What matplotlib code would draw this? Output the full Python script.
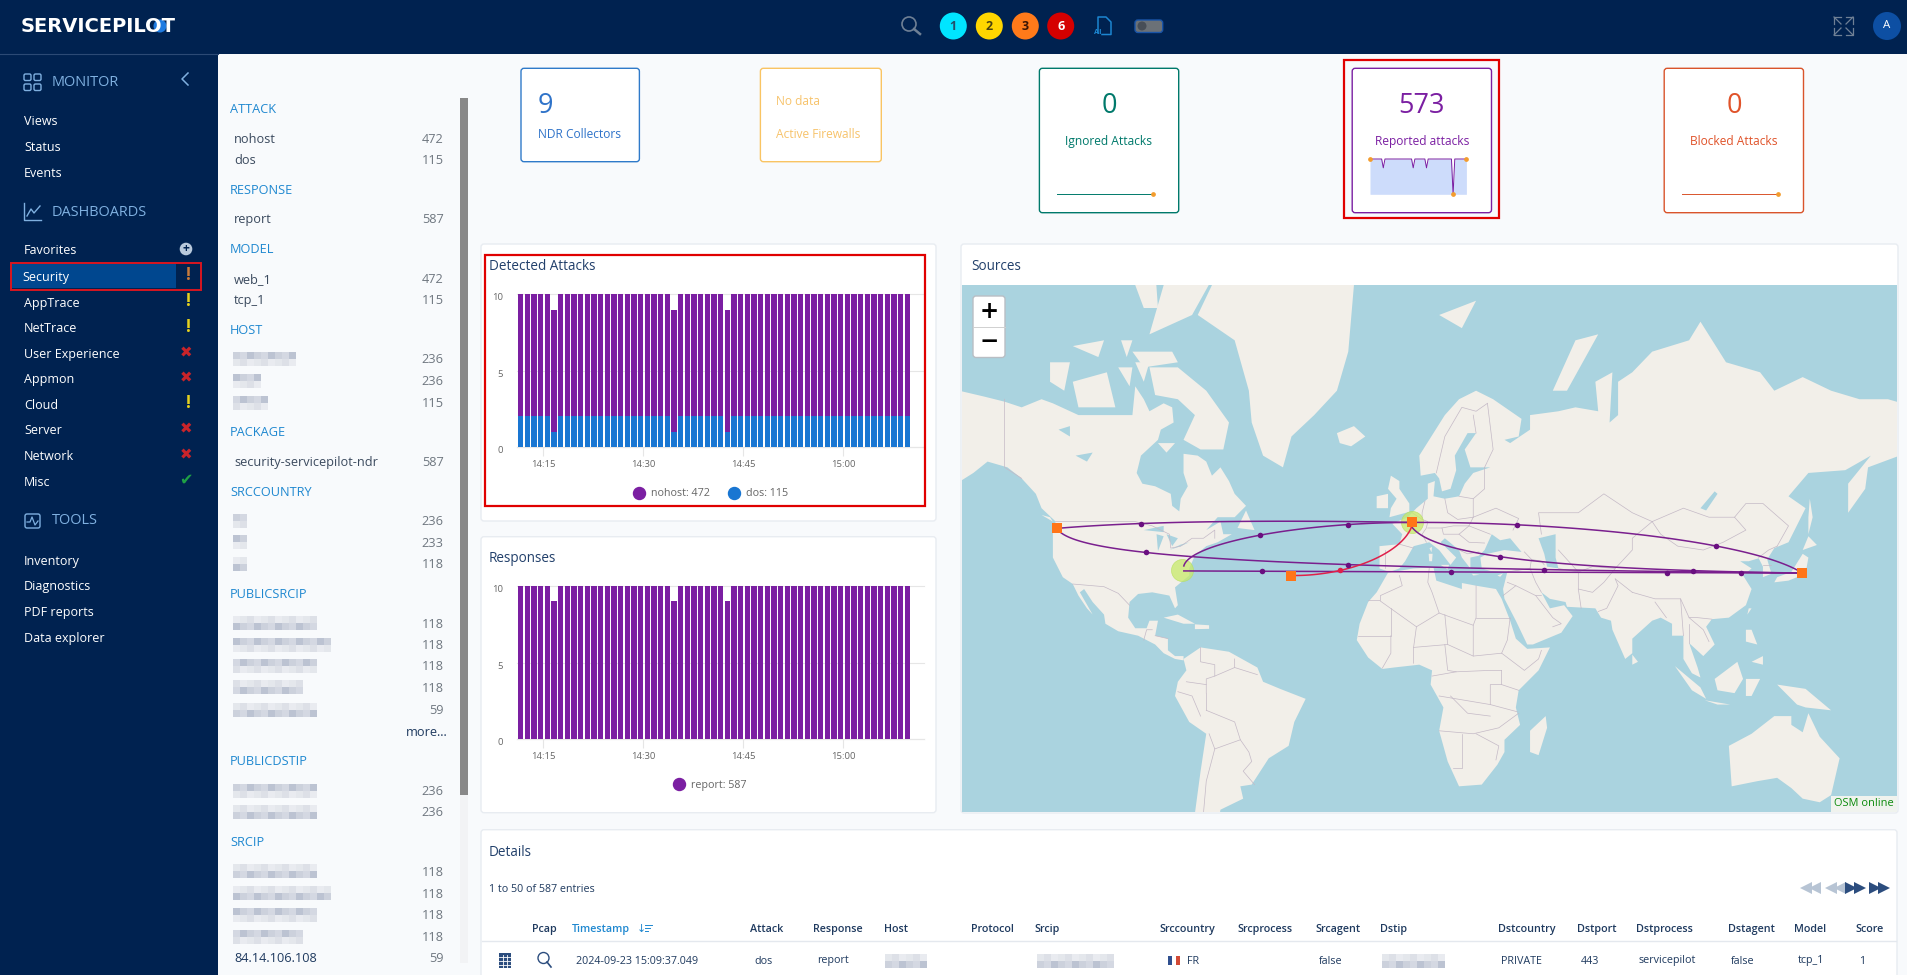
# -*- coding: utf-8 -*-

import matplotlib
matplotlib.use('Agg')
import matplotlib.pyplot as plt
import numpy as np
from matplotlib.lines import Line2D
from matplotlib.patches import Circle, FancyBboxPatch, Rectangle
from matplotlib.transforms import ScaledTranslation

W, H = 1908, 975
FONT = 'Open Sans'
plt.rcParams['font.family'] = [FONT, 'DejaVu Sans']

PURPLE = '#7b1fa2'
BLUE = '#1976d2'
NAVY = '#002250'
PAGE = '#f8fafc'
LINK = '#1f88d0'
DARK = '#1f3a5f'
GREY = '#6f7780'
RED = '#e00000'

# --- chart data -------------------------------------------------------------
bar_minutes = [11.6, 12.6, 13.6, 14.6, 15.6, 16.6, 17.6, 18.6, 19.6, 20.6, 21.6, 22.6, 23.6, 24.6, 25.6,
               26.6, 27.6, 28.6, 29.6, 30.6, 31.6, 32.6, 33.6, 34.6, 35.6, 36.6, 37.6, 38.6, 39.6, 40.6,
               41.6, 42.6, 43.6, 44.6, 45.6, 46.6, 47.6, 48.6, 49.6, 50.6, 51.6, 52.6, 53.6, 54.6, 55.6,
               56.6, 57.6, 58.6, 59.6, 60.6, 61.6, 62.6, 63.6, 64.6, 65.6, 66.6, 67.6, 68.6, 69.6]
nohost_counts = [8] * 59
dos_counts = [2, 2, 2, 2, 2, 1, 2, 2, 2, 2, 2, 2, 2, 2, 2, 2, 2, 2, 2, 2, 2, 2, 2, 1, 2, 2, 2, 2, 2, 2,
              2, 1, 2, 2, 2, 2, 2, 2, 2, 2, 2, 2, 2, 2, 2, 2, 2, 2, 2, 2, 2, 2, 2, 2, 2, 2, 2, 2, 2]
report_counts = [10, 10, 10, 10, 10, 9, 10, 10, 10, 10, 10, 10, 10, 10, 10, 10, 10, 10, 10, 10, 10, 10, 10, 9,
                 10, 10, 10, 10, 10, 10, 10, 9, 10, 10, 10, 10, 10, 10, 10, 10, 10, 10, 10, 10, 10, 10, 10,
                 10, 10, 10, 10, 10, 10, 10, 10, 10, 10, 10, 10]
tick_minutes = [15, 30, 45, 60]
tick_labels = ['14:15', '14:30', '14:45', '15:00']
reported_spark = [10, 10, 10, 10, 10, 10, 10, 10, 9, 10, 10, 10, 10, 10, 10, 10, 10, 10, 10, 10, 10, 10, 10, 10, 10, 10,
                  9, 10, 10, 10, 10, 10, 10, 10, 9, 10, 10, 10, 10, 10, 10, 10, 10, 10, 10, 10, 10, 10, 10, 10,
                  6, 10, 10, 10, 10, 10, 10, 10, 10]
flat_spark = [0] * 30

# --- sidebar / filter texts -------------------------------------------------
monitor_items = ['Views', 'Status', 'Events']
monitor_y = [120.3, 146.3, 172.3]
dash_items = ['Favorites', 'AppTrace', 'NetTrace', 'User Experience', 'Appmon', 'Cloud', 'Server', 'Network', 'Misc']
dash_y = [250, 302, 327.5, 353.5, 378.5, 404.5, 430, 455.5, 481.5]
dash_state = ['add', 'warn', 'warn', 'bad', 'bad', 'warn', 'bad', 'bad', 'ok']
tool_items = ['Inventory', 'Diagnostics', 'PDF reports', 'Data explorer']
tool_y = [560.7, 585.7, 611.7, 637.7]

filter_heads = ['ATTACK', 'RESPONSE', 'MODEL', 'HOST', 'PACKAGE', 'SRCCOUNTRY', 'PUBLICSRCIP', 'PUBLICDSTIP', 'SRCIP']
filter_head_y = [108.7, 189.5, 248.7, 329.5, 431.5, 491.5, 593.3, 760.5, 841.5]
filter_names = ['nohost', 'dos', 'report', 'web_1', 'tcp_1', 'security-servicepilot-ndr', '84.14.106.108']
filter_name_y = [138.5, 159.5, 218.5, 278.5, 299.5, 461.5, 957.5]
filter_name_vals = [472, 115, 587, 472, 115, 587, 59]
blur_y = [358.7, 380.5, 402.7, 520.7, 542.3, 563.5, 623, 644.7, 666, 687.3, 709.5, 790.5, 811.5, 871, 893, 914.5, 936.5]
blur_w = [65, 30, 40, 15, 15, 15, 90, 100, 85, 70, 85, 90, 85, 90, 100, 85, 70]
blur_vals = [236, 236, 115, 236, 233, 118, 118, 118, 118, 118, 59, 236, 236, 118, 118, 118, 118]

table_heads = ['Pcap', 'Timestamp', 'Attack', 'Response', 'Host', 'Protocol', 'Srcip', 'Srccountry', 'Srcprocess',
               'Srcagent', 'Dstip', 'Dstcountry', 'Dstport', 'Dstprocess', 'Dstagent', 'Model', 'Score']
table_head_x = [532, 572, 750.5, 813, 884, 971, 1034.6, 1159.4, 1237.7, 1315, 1380, 1498, 1577.5, 1635.7, 1728, 1794, 1855]
row_texts = ['2024-09-23 15:09:37.049', 'dos', 'report', 'FR', 'false', 'PRIVATE', '443', 'servicepilot', 'false', 'tcp_1', '1']
row_x = [576.5, 754, 817, 1187, 1319, 1501, 1581, 1639, 1731, 1798, 1859]

# --- map data, lon/lat ------------------------------------------------------
land_shapes = [
    [(-168, 65.5), (-166, 68.5), (-157, 71), (-148, 70.3), (-141, 69.7), (-135, 69), (-128, 70), (-124, 69.5), (-115, 68),
     (-108, 68), (-102, 68), (-96, 68), (-95, 71.5), (-92, 70), (-90, 68.5), (-85, 69.5), (-82, 69), (-81.5, 67), (-86, 66),
     (-87, 64.5), (-93, 62), (-94.5, 59), (-92.5, 57), (-88, 56.5), (-82.5, 55), (-82, 52.5), (-79.5, 51.3), (-79, 54),
     (-76.5, 56.5), (-78, 59), (-78, 62.3), (-73, 62), (-70, 61), (-68, 58.5), (-65, 60), (-62, 57.5), (-60, 55), (-56, 52.5),
     (-60, 50), (-66, 50), (-70, 47), (-65, 49), (-64, 46), (-61, 46), (-66, 44), (-70, 43), (-74, 40.5),
     (-76, 37), (-76, 35), (-81, 31.5), (-80, 26), (-81, 25), (-83, 29), (-89, 30), (-94, 29.5), (-97, 27), (-97.5, 22),
     (-95, 18.5), (-91, 18.5), (-90, 21), (-87, 21), (-88, 16), (-83.5, 15), (-83.5, 11), (-81, 9), (-78, 9), (-78, 7.5),
     (-81, 8), (-85, 10), (-88, 13), (-94, 16), (-101, 17.5), (-105.5, 20), (-106, 23), (-110, 27), (-113, 31), (-114.5, 30),
     (-110, 23), (-112, 25), (-115, 29), (-117, 32.5), (-120.5, 34.5), (-124, 40), (-124, 47), (-123, 49), (-128, 52),
     (-130, 55), (-135, 58), (-140, 60), (-147, 61), (-152, 59), (-158, 57), (-165, 54.5), (-158, 59), (-165, 61), (-166, 64)],
    [(-90, 73.5), (-80, 73.5), (-70, 71), (-62, 67), (-64, 63), (-72, 63), (-78, 64.5), (-74, 68), (-80, 70), (-88, 70.5)],
    [(-117, 72), (-105, 73), (-102, 69), (-115, 69)],
    [(-90, 76.5), (-85, 80), (-70, 83), (-62, 82), (-75, 78)],
    [(-125, 74), (-118, 74), (-120, 71), (-125, 72)],
    [(-96, 75), (-82, 75), (-80, 74), (-92, 73.5)],
    [(-87, 64), (-81, 64), (-84, 62.5)],
    [(-95, 74), (-90, 74), (-92, 72)],
    [(-117, 75.5), (-106, 76), (-108, 74.5)],
    [(-95, 80), (-88, 81), (-87, 78.5), (-92, 78.5)],
    [(-100, 76), (-96, 76), (-98, 74.5)],
    [(-101, 73.5), (-96, 73.5), (-97, 71.5)],
    [(-128, 50.5), (-124, 49), (-125, 50)],
    [(-59, 47.5), (-53, 47), (-56, 51.5)],
    [(-73, 78), (-68, 80), (-60, 82), (-40, 83.5), (-25, 83), (-18, 80), (-20, 75), (-24, 71), (-32, 68), (-40, 65), (-43, 60),
     (-50, 62), (-54, 67), (-55, 71), (-60, 76)],
    [(-24, 65.5), (-18, 66.5), (-14, 65), (-19, 63.5), (-23, 64)],
    [(-85, 22), (-80, 23), (-74, 20), (-78, 20)],
    [(-74, 19.8), (-69, 19.5), (-69, 18.3), (-74, 18.2)],
    [(-78, 8), (-72, 12), (-62, 10.5), (-52, 5), (-50, 0), (-44, -2.5), (-35, -6), (-39, -14), (-41, -22), (-48, -26),
     (-54, -34), (-58, -34.5), (-57, -38), (-65, -41), (-66, -45), (-69, -52), (-72, -52), (-74, -42), (-72, -30), (-70, -18),
     (-76, -14), (-81, -5), (-80, 0), (-77, 4)],
    [(-6, 35.8), (3, 37), (10, 37.3), (11, 33.5), (20, 31), (20, 32.8), (25, 32), (32, 31), (34, 28), (37, 21), (39, 15),
     (43, 11.5), (51, 12), (47, 4), (40, -3), (39, -9), (40.5, -15), (35, -20), (35, -24), (32.5, -28), (27, -34), (19, -34.5),
     (15, -27), (12, -17), (13.5, -9), (9, -1), (9.5, 4), (5, 6), (-4, 5), (-8, 4.5), (-13, 8.5), (-17, 14.5), (-16, 20),
     (-13, 27), (-10, 30)],
    [(49.5, -12), (50, -16), (47, -25), (44, -24), (44, -17)],
    [(-9, 37), (-9, 43), (-2, 43.5), (-1, 46), (-4.5, 48.5), (1, 50), (4, 52), (8, 54), (8, 57), (10.5, 57.5), (10, 54.5),
     (14, 54), (19, 54.5), (21, 57), (24, 59), (30, 60), (23, 60), (21, 63), (25, 65.5), (22, 65.5), (17.5, 62), (18, 59.5),
     (16, 56), (13, 55.5), (12, 58), (10.5, 59), (5.5, 58.5), (5, 62), (14, 68), (19, 70), (25, 71), (31, 70), (41, 67.5),
     (40, 65), (35, 64.5), (37, 64), (44, 66), (44, 68), (54, 68.5), (60, 69), (68, 68.5), (67, 72), (73, 73), (72, 67), (75, 68),
     (75, 72), (80, 73), (87, 75), (100, 76), (104, 77.5), (113, 74), (125, 73), (130, 71), (140, 72.5), (150, 71), (160, 70),
     (170, 70), (180, 69), (180, 65), (177, 62.5), (163, 60), (162, 56), (156, 51), (156, 57), (164, 62), (155, 59.5),
     (142, 59), (135, 54.5), (141, 52), (135, 44), (130, 42.5), (127.5, 39.5), (129, 35.5), (126, 34.5), (126, 37.5),
     (124.5, 39.8), (121, 39), (118, 39), (122, 37), (119, 35), (122, 31), (120, 26), (114, 22), (108, 21.5), (106, 19),
     (109, 13), (105, 9), (100, 13.5), (103, 5), (104, 1.5), (101, 3), (98, 8), (98, 16), (94, 16), (94, 20), (90, 22),
     (87, 21), (80, 15), (80, 10), (77.5, 8), (73, 18), (72.5, 21), (69, 22), (67, 25), (57, 25.5), (56.5, 27), (51, 28),
     (48, 30), (51, 25), (56, 26), (59, 22.5), (55, 17), (45, 13), (43, 13), (39, 21), (35, 28), (34.5, 31), (36, 36),
     (30, 36.3), (27, 37), (26.5, 40), (29, 41), (35, 42), (41, 41.5), (37, 45), (33.5, 44.5), (30.5, 46), (28, 42), (26, 40.5),
     (23, 40), (23, 37), (20, 40), (19, 42), (14, 45), (12.5, 44), (18, 40), (16, 38), (12, 42), (8.5, 44), (3, 43), (0, 39),
     (-2, 37), (-5.5, 36)],
    [(-5.5, 50), (1.5, 51.2), (1.5, 53), (-2, 56), (-2, 57.5), (-5, 58.5), (-6, 56), (-3, 54), (-5, 52)],
    [(-10, 52), (-6, 52), (-6, 55), (-10, 54.5)],
    [(130, 33), (135, 33.5), (141, 35.5), (142, 40), (140, 41), (136, 36), (131, 34.5)],
    [(140, 42), (145, 43.3), (142, 45.5)],
    [(142, 46), (143.5, 50), (142.5, 54), (142, 50)],
    [(120.5, 23), (122, 25), (121, 25)],
    [(80, 9.5), (82, 7), (80, 6)],
    [(95, 5.5), (104, -2), (106, -6), (101, -3)],
    [(105.5, -6.5), (114.5, -8), (110, -8)],
    [(109, 1), (117, 7), (119, 1), (116, -4), (110, -3)],
    [(120, 1), (125, 1), (122, -5), (120, -5)],
    [(131, -1), (141, -2.5), (150, -10), (141, -9), (138, -8)],
    [(120, 18), (122, 18), (124, 13), (120, 14)],
    [(122, 7), (126, 9), (126, 6)],
    [(114, -22), (122, -18), (130, -12), (136, -12), (136, -15), (140, -17.5), (142, -11), (146, -19), (153, -26), (150, -37),
     (146, -39), (140, -38), (136, -35), (131, -32), (124, -33), (115, -34.5)],
    [(52, 71), (57, 71), (68, 76.5), (60, 76)],
    [(12, 78), (25, 79), (20, 77)],
    [(12.5, 38), (15.5, 38), (15, 36.7)],
    [(8.3, 41), (9.7, 41), (9.5, 39), (8.5, 39)],
    [(8.6, 42.5), (9.5, 42.8), (9.3, 41.4)],
    [(23.5, 35.5), (26.3, 35.2), (24, 35)],
    [(32.5, 35), (34.5, 35.6), (33.5, 34.6)],
]
water_shapes = [
    [(47, 45), (53, 46), (53, 40), (54, 37), (50, 37.5), (49, 41)],
    [(-92, 47), (-85, 48), (-85, 46.5)],
    [(-87.5, 46), (-85, 45.5), (-87, 41.7)],
    [(-84, 46), (-80, 45), (-82, 43)],
    [(-83, 42), (-79, 43), (-76, 44), (-79, 43.4)],
    [(-122, 66), (-118, 66.5), (-118, 65)],
    [(-116, 62), (-110, 62.5), (-112, 61)],
    [(104, 52), (109, 55.5), (110, 55), (106, 51.5)],
]
border_lines = [
    [(-123, 49), (-95, 49), (-89, 48), (-83, 46), (-82.5, 42.5), (-79, 43), (-75, 45), (-71, 45), (-67, 47), (-67, 45)],
    [(-141, 70), (-141, 60), (-135, 58)],
    [(-117, 32.5), (-106, 31.7), (-101, 29.7), (-97, 26)],
    [(-92, 14.5), (-91, 18), (-89, 18)], [(-88, 16), (-83.5, 15)],
    [(-70, -4), (-70, 1), (-67, 2), (-60, 5), (-60, 8)], [(-70, -10), (-70, -4)],
    [(-70, -10), (-60, -14), (-58, -20), (-55, -24), (-54, -27), (-57, -30), (-53, -34)],
    [(-69, -18), (-67, -23), (-58, -20)], [(-67, -23), (-70, -33), (-72, -50)],
    [(-72, -12), (-75, -5), (-80, -3.5)], [(-72, 12), (-72, 7), (-67, 6), (-67, 2)], [(-77, 0), (-70, -1)], [(-60, 5), (-52, 2.5)],
    [(-8.7, 27.7), (-8.7, 29), (-1, 32), (-2, 35)], [(-13, 27.7), (-8.7, 27.7)],
    [(-8.7, 27.3), (4, 19), (12, 23.5), (9.5, 30), (8, 33), (8.5, 37)], [(12, 23.5), (24, 19.5), (25, 22), (25, 32)],
    [(25, 22), (37, 22)], [(24, 19.5), (24, 9), (15, 13), (14, 23)], [(-16.5, 16), (-5, 16), (-5, 25)],
    [(4, 19), (3, 12), (3, 6.5)], [(15, 13), (3, 12)], [(-5, 16), (-5, 10), (-8, 4.8)], [(34, 10), (36, 14.5), (37, 22)],
    [(24, 9), (34, 10), (42, 4), (47, 8), (48, 11)], [(34, 4), (34, -1), (40, -3)], [(34, -1), (30, -1), (30, -8), (39.5, -10.5)],
    [(12, -5), (30, -8)], [(12, -17), (24, -18), (33, -16), (40, -11)], [(20, -18), (20, -29), (17, -29)],
    [(25, -18), (33, -22), (32, -26.5)], [(9.5, 2), (18, 3.5), (30, 4), (34, 4)], [(14, 13), (15, 4), (18, 3.5)],
    [(16, -5), (22, -11), (30, -12)],
    [(-2, 43.5), (3, 42.5)], [(-7, 42), (-7, 37)], [(2.5, 51), (6, 49.5), (8, 49), (7.5, 47.5), (6, 46), (7.5, 44)],
    [(7, 53.5), (6, 51), (6, 49.5)], [(14, 54), (15, 51), (18.5, 49.5), (24, 50), (24, 54), (19, 54.5)],
    [(8, 47.5), (13, 47.5), (17, 48), (22.5, 48), (24, 50)], [(13, 47.5), (13.5, 46), (19, 46), (22.5, 48)],
    [(24, 54), (28, 56), (28, 60)], [(24, 50), (32, 52), (40, 49.7), (38, 47)], [(22.5, 48), (30, 46)],
    [(19, 46), (22.5, 44), (28, 43.8)], [(19, 42), (22, 41), (26, 41.5)], [(11, 59), (14, 65), (20, 69), (25, 68.5), (29, 69.5)],
    [(25, 65.5), (24, 68)], [(29, 69.5), (31, 63), (28, 60)],
    [(36, 36), (44, 37), (44.5, 39.5), (42, 41.5)], [(44, 37), (46, 33), (48, 30)], [(36, 33), (39, 32), (46, 29), (48, 29)],
    [(34.5, 29), (39, 32)], [(46, 29), (52, 22), (55, 20), (52, 19)], [(44.5, 39.5), (48, 39), (49, 38)],
    [(48, 46), (47, 51), (61, 51), (70, 55), (80, 51), (87, 49)], [(54, 37), (61, 36), (61, 31), (62, 25)], [(54, 42), (61, 36)],
    [(61, 36), (66, 37.5), (74, 37), (80, 42), (80, 45), (87, 49)], [(61, 31), (66, 30), (70, 33), (74, 37)],
    [(74, 34), (75, 32), (71, 25), (68, 24)], [(80, 30), (88, 28), (97, 28), (100, 22), (103, 22), (108, 21.5)], [(74, 34), (80, 30)],
    [(88, 27), (92, 22)], [(97, 28), (98, 16)], [(100, 22), (105, 18), (107, 14)], [(100, 20), (100, 13.5)],
    [(87, 49), (98, 52), (107, 50), (116, 50), (120, 47), (112, 44), (105, 42), (96, 43), (90, 46), (87, 49)],
    [(116, 50), (120, 53), (126, 53), (135, 48), (131, 43)], [(124.5, 40), (128, 42), (131, 43)], [(126, 38), (129, 38)],
]
# attack arcs as cubic control points, with the t of each little dot on them
arc_points = [
    [(-122.6, 47.4), (-90, 49.3), (-40, 49.3), (2.3, 48.8)],
    [(2.3, 48.8), (45.6, 49.0), (120.1, 45.8), (139.9, 35.7)],
    [(2.3, 47.8), (9.4, 41.4), (45.6, 36.7), (139.9, 35.7)],
    [(-122.6, 47.4), (-116.2, 40.4), (-50.2, 37.2), (139.9, 35.7)],
    [(-77.9, 37.7), (-75.8, 44.1), (-37.5, 48.8), (2.3, 48.8)],
    [(-77.9, 36.3), (-20, 36.1), (60, 35.9), (139.9, 35.7)],
]
arc_dots = [[0.27], [0.25, 0.7], [0.46, 0.85], [0.35, 0.64, 0.82], [0.51, 0.81], [0.15, 0.47, 0.8, 0.91]]
red_arc = [(-40.2, 35.0), (-20.4, 34.7), (-1.3, 41.4), (2.3, 47.8)]
halo_lon = [2.3, -78.6]
halo_lat = [48.85, 36.5]
site_lon = [-122.7, 2.3, -40.3, 139.7]
site_lat = [47.6, 48.85, 34.9, 35.7]


def fs(px):
    return px * 0.72


def axes_px(x0, y0, x1, y1, **kw):
    return fig.add_axes([x0 / W, 1 - y1 / H, (x1 - x0) / W, (y1 - y0) / H], **kw)


def merc(lat):
    return np.log(np.tan(np.pi / 4 + np.radians(lat) / 2))


def txt(x, y, s, size=12.7, color=DARK, ha='left', **kw):
    bg.text(x, y + 1, s, fontsize=fs(size), color=color, ha=ha, va='center', **kw)


def card(x0, y0, x1, y1, edge, face='white', lw=1.0, ax=None):
    (ax or bg).add_patch(FancyBboxPatch((x0, y0), x1 - x0, y1 - y0, boxstyle='round,pad=0,rounding_size=3',
                                        fc=face, ec=edge, lw=lw))


def blur(x, y, w, rows=2):
    # pixelated block used where the source hides hosts and addresses
    shades = ['#d4d8e2', '#e4e7ec', '#bcc3d2', '#dde0e7', '#ccd1dc', '#e9ebf0']
    cell = 7
    for r in range(rows):
        for c in range(int(w / cell)):
            col = shades[(c * 2 + r * 3 + int(y)) % len(shades)]
            bg.add_patch(Rectangle((x + c * cell, y - cell + r * cell), cell, cell, fc=col, ec='none'))


def bar_chart(y_top, y_bottom, series, legend_xy):
    ax = axes_px(516.7, y_top, 924, y_bottom, zorder=3)
    ax.patch.set_alpha(0)
    base = np.zeros(len(bar_minutes))
    for values, color in series:
        ax.bar(bar_minutes, values, width=0.78, bottom=base, color=color, lw=0, zorder=3)
        base = base + np.array(values)
    ax.set_xlim(11.01, 72.1)
    ax.set_ylim(0, 10)
    ax.set_yticks([0, 5, 10])
    ax.set_xticks(tick_minutes)
    ax.set_xticklabels(tick_labels)
    ax.grid(True, axis='y', color='#e6e6e6', lw=0.8, zorder=0)
    for line in ax.get_ygridlines():
        line.set_clip_on(False)
    for name in ['top', 'right', 'left']:
        ax.spines[name].set_visible(False)
    ax.spines['bottom'].set_color('#e6e6e6')
    ax.tick_params(axis='x', length=6.5, color='#e6e6e6', labelsize=fs(9.5), labelcolor='#666666', pad=3)
    ax.tick_params(axis='y', length=0, labelsize=fs(9.5), labelcolor='#666666', pad=10)
    nudge = ScaledTranslation(0, -2.4 / 100, fig.dpi_scale_trans)
    for label in ax.get_yticklabels():
        label.set_transform(label.get_transform() + nudge)
    handles = [Line2D([], [], marker='o', ls='none', ms=fs(12), color=c, label=lab) for lab, c in legend_xy[2]]
    ax.legend(handles=handles, loc='center', bbox_to_anchor=legend_xy[:2], bbox_transform=bg.transData, ncol=len(handles),
              frameon=False, fontsize=fs(10.7), labelcolor='#666666', handletextpad=0.1, columnspacing=1.3, borderpad=0)
    return ax


def spark(x0, y0, x1, y1, values, ylim, color, fill=None):
    ax = axes_px(x0, y0, x1, y1, zorder=3)
    ax.axis('off')
    xs = np.arange(len(values))
    if fill:
        ax.fill_between(xs, ylim[0], values, color=fill, lw=0)
    ax.plot(xs, values, color=color, lw=0.7, clip_on=False)
    ax.set_xlim(0, len(values) - 1)
    ax.set_ylim(*ylim)
    dots = [len(values) - 1]
    if fill:
        dots = [0, len(values) - 1, int(np.argmin(values))]
    ax.plot(xs[dots], np.array(values)[dots], 'o', color='#f39c2d', ms=2.4, clip_on=False)


fig = plt.figure(figsize=(W / 100, H / 100), dpi=100, facecolor=PAGE)
bg = fig.add_axes([0, 0, 1, 1], zorder=1)
bg.set_xlim(0, W)
bg.set_ylim(H, 0)
bg.axis('off')
fg = fig.add_axes([0, 0, 1, 1], zorder=8)
fg.set_xlim(0, W)
fg.set_ylim(H, 0)
fg.axis('off')

# --- top bar and sidebar ----------------------------------------------------
bg.add_patch(Rectangle((0, 0), W, 54, fc=NAVY, ec='none'))
bg.add_patch(Rectangle((0, 54), 218, H - 54, fc=NAVY, ec='none'))
bg.plot([0, 218], [54, 54], color='#2c4a75', lw=0.8)
bg.text(21, 26, 'SERVICEPILOT', fontsize=14, color='white', weight='bold', family='DejaVu Sans', ha='left', va='center')
bg.add_patch(Circle((160, 26), 6.5, fc='#1f7be0', ec='none'))

# search, numbered alert badges, AI file, toggle
bg.add_patch(Circle((909, 24), 7, fc='none', ec='#6f8095', lw=1.2))
bg.plot([914, 920], [29, 34], color='#6f8095', lw=1.8)
badge_x = [953.3, 989.3, 1025.3, 1060.7]
badge_col = ['#00e5ff', '#ffd600', '#ff7a1a', '#d50000']
badge_txt = ['1', '2', '3', '6']
badge_fg = ['#24506a', '#4a4210', '#3a1505', 'white']
for x, c, t, f in zip(badge_x, badge_col, badge_txt, badge_fg):
    bg.add_patch(Circle((x, 26), 13.5, fc=c, ec='none'))
    bg.text(x, 26, t, fontsize=fs(12.5), color=f, ha='center', va='center', weight='bold')
bg.plot([1098, 1098, 1106, 1111, 1111, 1102], [33, 17, 17, 22, 34.5, 34.5], color='#1c86d1', lw=1.1)
bg.text(1098, 32, 'AI', fontsize=fs(7.5), color='#1c86d1', weight='bold', ha='center', va='center')
card(1135, 20, 1162.7, 32.5, '#1a55a8', face='#6b7177', lw=1.0)
bg.add_patch(Circle((1142, 26), 4.5, fc='#474e57', ec='none'))
for sx, sy in [(1834, 17), (1853, 17), (1834, 35), (1853, 35)]:
    dx = 7 if sx < 1843 else -7
    dy = 7 if sy < 26 else -7
    bg.plot([sx + dx, sx, sx], [sy, sy, sy + dy], color='#6f8095', lw=0.9)
    bg.plot([sx, sx + dx], [sy, sy + dy], color='#6f8095', lw=0.9)
bg.add_patch(Circle((1887, 26), 14, fc='#0d4fa3', ec='none'))
bg.text(1887, 26, 'A', fontsize=fs(11.5), color='white', ha='center', va='center')

# section headers with small icons
SECTION = '#7fb0e0'
for name, y in [('MONITOR', 82), ('DASHBOARDS', 212), ('TOOLS', 520.5)]:
    bg.text(51.5, y, name, fontsize=fs(14.5), color=SECTION, ha='left', va='center')
for ix, iy in [(24, 74), (34, 74), (24, 84), (34, 84)]:
    bg.add_patch(FancyBboxPatch((ix, iy), 7, 6.5, boxstyle='round,pad=0,rounding_size=1.5', fc='none', ec=SECTION, lw=1.0))
bg.plot([24, 24, 41], [203, 220, 220], color=SECTION, lw=1.0)
bg.plot([27, 31, 34, 40], [216, 209, 213, 206], color=SECTION, lw=1.0)
bg.add_patch(FancyBboxPatch((25, 514), 15, 14, boxstyle='round,pad=0,rounding_size=2', fc='none', ec=SECTION, lw=1.0))
bg.plot([27, 30, 32, 35, 38], [522, 522, 517, 525, 521], color=SECTION, lw=0.9)
bg.plot([188, 182, 188], [73, 79, 85], color=SECTION, lw=1.1)

for s, y in zip(monitor_items, monitor_y):
    txt(24, y, s, 12.5, 'white')
for s, y in zip(tool_items, tool_y):
    txt(24, y, s, 12.5, 'white')
for s, y, state in zip(dash_items, dash_y, dash_state):
    txt(24, y, s, 12.5, 'white')
    if state == 'add':
        bg.add_patch(Circle((186, 249), 6.3, fc='#b8c9dc', ec='none'))
        bg.text(186, 248.5, '+', fontsize=fs(12), color=NAVY, weight='bold', ha='center', va='center')
    elif state == 'warn':
        bg.text(188, y - 1, '!', fontsize=fs(17), color='#e6d21e', weight='bold', ha='center', va='center')
    elif state == 'bad':
        bg.text(186.5, y - 1, '\u2716', fontsize=fs(15), color='#c9242a', family='DejaVu Sans', ha='center', va='center')
    else:
        bg.text(186, y - 1, '\u2714', fontsize=fs(16), color='#1fa045', family='DejaVu Sans', ha='center', va='center')
bg.add_patch(Rectangle((12, 264), 164, 24, fc='#00478f', ec='none'))
txt(22, 276, 'Security', 12.5, 'white')
bg.text(188, 275, '!', fontsize=fs(17), color='#c97a3a', weight='bold', ha='center', va='center')
fg.add_patch(Rectangle((11, 262.5), 190, 27, fc='none', ec='#d81620', lw=1.4))

# --- filter column ----------------------------------------------------------
for s, y in zip(filter_heads, filter_head_y):
    txt(230, y, s, 12.7, LINK)
for s, y, v in zip(filter_names, filter_name_y, filter_name_vals):
    txt(234, y, s, 12.7, '#3b4a5e' if s != '84.14.106.108' else DARK)
    txt(443.5, y, str(v), 12.7, GREY, ha='right')
for y, w, v in zip(blur_y, blur_w, blur_vals):
    blur(233, y, w)
    txt(443.5, y, str(v), 12.7, GREY, ha='right')
txt(447.5, 731.5, 'more...', 12.7, DARK, ha='right')
bg.add_patch(Rectangle((460, 98), 8, 865, fc='#f2f3f5', ec='none'))
bg.add_patch(Rectangle((460, 98), 8, 697, fc='#888888', ec='none'))

# --- kpi cards --------------------------------------------------------------
card(521, 68.3, 639.4, 161.7, '#2f7ac9')
txt(537.6, 105, '9', 27, '#2f73c9')
txt(537.6, 133, 'NDR Collectors', 12, '#2f73c9')
card(760.4, 68.3, 881.3, 161.7, '#f9c463')
txt(776, 100.7, 'No data', 12, '#f7c36b')
txt(776, 133, 'Active Firewalls', 12, '#f7c36b')
card(1039.4, 68.3, 1178.7, 212.7, '#00796b')
txt(1109, 105, '0', 27, '#00796b', ha='center')
txt(1109, 140.7, 'Ignored Attacks', 12, '#00796b', ha='center')
spark(1057, 190, 1153, 198, flat_spark, (-1, 1), '#00796b')
card(1352.2, 68.3, 1491.5, 212.7, PURPLE)
txt(1421.8, 105, '573', 27, PURPLE, ha='center')
txt(1421.8, 140.7, 'Reported attacks', 12, PURPLE, ha='center')
spark(1370, 159, 1466.4, 194.3, reported_spark, (6, 10), PURPLE, fill='#cddcfb')
card(1664.2, 68.3, 1803.5, 212.7, '#d9542b')
txt(1734, 105, '0', 27, '#e0532a', ha='center')
txt(1734, 140.7, 'Blocked Attacks', 12, '#e0532a', ha='center')
spark(1682, 190, 1778, 198, flat_spark, (-1, 1), '#d9542b')
fg.add_patch(Rectangle((1344, 60), 155, 158, fc='none', ec=RED, lw=1.6))

# --- panels -----------------------------------------------------------------
PANEL_EDGE = '#e8ecf1'
card(481, 244, 936, 521, PANEL_EDGE)
card(481, 536.7, 936, 812.7, PANEL_EDGE)
card(961, 244, 1898, 813, PANEL_EDGE)
card(481, 829.7, 1897, 990, PANEL_EDGE)
txt(489, 265, 'Detected Attacks', 13.5, '#22406b')
txt(489, 557, 'Responses', 13.5, '#22406b')
txt(971, 265, 'Sources', 13.5, '#22406b')
txt(489, 851, 'Details', 13.5, '#22406b')
fg.add_patch(Rectangle((485, 254.7), 440, 251, fc='none', ec=RED, lw=1.6))

bar_chart(294.3, 447, [(dos_counts, BLUE), (nohost_counts, PURPLE)],
          (708, 494, [('nohost: 472', PURPLE), ('dos: 115', BLUE)]))
bar_chart(586, 739.3, [(report_counts, PURPLE)], (707.5, 785.5, [('report: 587', PURPLE)]))

# --- map --------------------------------------------------------------------
mp = axes_px(962, 285, 1897, 812, zorder=3)
mp.set_xlim(-156, 173.2)
mp.set_ylim(-0.80, 2.437)
mp.set_facecolor('#aad3df')
mp.set_xticks([])
mp.set_yticks([])
for spine in mp.spines.values():
    spine.set_visible(False)
for shape in land_shapes:
    pts = np.array(shape)
    mp.fill(pts[:, 0], merc(pts[:, 1]), color='#f2efe9', lw=0)
for shape in water_shapes:
    pts = np.array(shape)
    mp.fill(pts[:, 0], merc(pts[:, 1]), color='#aad3df', lw=0)
for line in border_lines:
    pts = np.array(line)
    mp.plot(pts[:, 0], merc(pts[:, 1]), color='#c4b9c6', lw=0.5)

mp.scatter(halo_lon, merc(np.array(halo_lat)), s=fs(22) ** 2, color='#c8ea6a', alpha=0.75, edgecolor='#b5e05a', lw=0.5, zorder=4)


def bezier(ctrl, t):
    p = np.array(ctrl, dtype=float)
    t = np.asarray(t)[:, None]
    return (1 - t) ** 3 * p[0] + 3 * (1 - t) ** 2 * t * p[1] + 3 * (1 - t) * t ** 2 * p[2] + t ** 3 * p[3]


for ctrl, dots in zip(arc_points, arc_dots):
    path = bezier(ctrl, np.linspace(0, 1, 80))
    mp.plot(path[:, 0], merc(path[:, 1]), color='#7a1f8e', lw=1.1, zorder=5)
    marks = bezier(ctrl, dots)
    mp.scatter(marks[:, 0], merc(marks[:, 1]), s=16, marker='o', color='#6a0f80', lw=0, zorder=6)
path = bezier(red_arc, np.linspace(0, 1, 80))
mp.plot(path[:, 0], merc(path[:, 1]), color='#e0204a', lw=1.1, zorder=5)
marks = bezier(red_arc, [0.3])
mp.scatter(marks[:, 0], merc(marks[:, 1]), s=16, color='#e0204a', lw=0, zorder=6)
mp.scatter(site_lon, merc(np.array(site_lat)), s=52, marker='s', color='#ff7518', lw=0, zorder=7)

card(973, 296, 1005, 357.5, '#b9bec4', lw=1.0, ax=fg)
fg.plot([973, 1005], [326.5, 326.5], color='#d0d0d0', lw=0.7)
fg.text(989, 311, '+', fontsize=fs(23), color='black', ha='center', va='center', weight='bold', family='DejaVu Sans')
fg.text(989, 342, '\u2212', fontsize=fs(23), color='black', ha='center', va='center', weight='bold', family='DejaVu Sans')
fg.add_patch(Rectangle((1830.6, 795.5), 66.4, 16.5, fc='#f0f3ee', ec='none'))
fg.text(1864, 804, 'OSM online', fontsize=fs(11), color='#0a8a0a', ha='center', va='center')

# --- details table ----------------------------------------------------------
txt(489, 888.3, '1 to 50 of 587 entries', 10.8, DARK)
for i, x in enumerate([1801, 1826, 1846, 1870]):
    col = '#b7c4d4' if i < 2 else '#2c4d7e'
    marker = '<' if i < 2 else '>'
    bg.plot([x + 5, x + 14], [888, 888], ls='none', marker=marker, ms=8, color=col, mew=0)
for s, x in zip(table_heads, table_head_x):
    txt(x, 928.3, s, 10.8, LINK if s == 'Timestamp' else DARK, weight='semibold')
bg.text(641, 929, '\u2193', fontsize=fs(11), color=LINK, ha='center', va='center', family='DejaVu Sans')
for i, w in enumerate([7, 5, 3]):
    bg.plot([645, 645 + w], [925 + i * 3, 925 + i * 3], color=LINK, lw=0.7)
bg.plot([482, 1896], [941, 941], color='#e4e8ee', lw=1.0)
for s, x in zip(row_texts, row_x):
    txt(x, 960, s, 10.8, DARK)
blur(885, 961, 42)
blur(1037, 961, 77)
blur(1382, 961, 64)
bg.add_patch(Rectangle((1168, 956), 4, 9, fc='#2f4f8f', ec='none'))
bg.add_patch(Rectangle((1172, 956), 4, 9, fc='white', ec='none'))
bg.add_patch(Rectangle((1176, 956), 4, 9, fc='#d24a36', ec='none'))
# table and magnifier icons in the row
bg.add_patch(Rectangle((499, 953), 12, 15, fc='#2c4d7e', ec='none'))
for gy in [957, 961, 965]:
    bg.plot([499, 511], [gy, gy], color='white', lw=0.6)
for gx in [503, 507]:
    bg.plot([gx, gx], [955, 968], color='white', lw=0.6)
bg.add_patch(Circle((543.5, 958), 5.5, fc='none', ec='#2c4d7e', lw=1.0))
bg.plot([547, 551], [962, 967], color='#2c4d7e', lw=1.2)

fig.savefig('out.png', dpi=100, facecolor=PAGE)
